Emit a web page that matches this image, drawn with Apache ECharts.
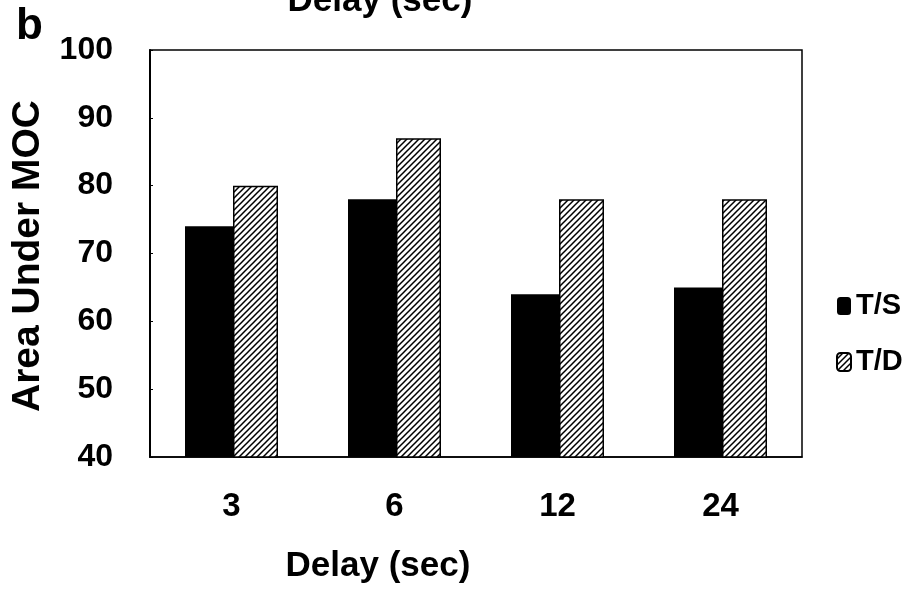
<!DOCTYPE html>
<html>
<head>
<meta charset="utf-8">
<script src="https://cdn.jsdelivr.net/npm/echarts@6/dist/echarts.min.js"></script>
<style>html,body{margin:0;padding:0;background:#fff}#c{width:914px;height:589px}</style>
</head>
<body>
<div id="c"></div>
<script>
const categories = ['3', '6', '12', '24'];
const seriesNames = ['T/S', 'T/D'];
const tsValues = [74, 78, 64, 65];
const tdValues = [80, 87, 78, 78];
const yTicks = { min: 40, max: 100, interval: 10 };

function hatch() {
  const c = document.createElement('canvas');
  c.width = 6; c.height = 6;
  const g = c.getContext('2d');
  g.fillStyle = '#fff'; g.fillRect(0, 0, 6, 6);
  g.strokeStyle = '#000'; g.lineWidth = 1.5;
  g.beginPath();
  g.moveTo(-1, 7); g.lineTo(7, -1);
  g.moveTo(-4, 4); g.lineTo(4, -4);
  g.moveTo(2, 10); g.lineTo(10, 2);
  g.stroke();
  return c;
}
const pattern = { image: hatch(), repeat: 'repeat' };
const font = '"Liberation Sans", Arial, sans-serif';

const chart = echarts.init(document.getElementById('c'));
chart.setOption({
  animation: false,
  backgroundColor: '#fff',
  grid: { left: 150, right: 112, top: 50, bottom: 132, show: true, borderColor: '#000', borderWidth: 1.5 },
  legend: {
    orient: 'vertical', left: 831, top: 285, itemGap: 24,
    itemWidth: 14, itemHeight: 18, data: seriesNames,
    textStyle: { fontFamily: font, fontWeight: 'bold', fontSize: 29, color: '#000', lineHeight: 32 }
  },
  xAxis: {
    type: 'category', data: categories,
    axisLine: { lineStyle: { color: '#000', width: 1.5 } },
    axisTick: { show: false },
    axisLabel: { margin: 33, fontFamily: font, fontWeight: 'bold', fontSize: 33, color: '#000' }
  },
  yAxis: {
    type: 'value', min: yTicks.min, max: yTicks.max, interval: yTicks.interval,
    axisLine: { show: true, lineStyle: { color: '#000', width: 2 } },
    axisTick: { show: true, inside: true, length: 3, lineStyle: { color: '#000' } },
    splitLine: { show: false },
    axisLabel: { margin: 37, fontFamily: font, fontWeight: 'bold', fontSize: 32, color: '#000' }
  },
  graphic: [
    { type: 'text', left: 16, top: 5, style: { text: 'b', font: 'bold 44px ' + font, fill: '#000' } },
    { type: 'text', x: 380, y: 1, style: { text: 'Delay (sec)', font: 'bold 35px ' + font, fill: '#000', align: 'center', verticalAlign: 'middle' } },
    { type: 'text', x: 378, y: 566, style: { text: 'Delay (sec)', font: 'bold 35px ' + font, fill: '#000', align: 'center', verticalAlign: 'middle' } },
    { type: 'text', x: 28, y: 256, rotation: Math.PI / 2, style: { text: 'Area Under MOC', font: 'bold 39px ' + font, fill: '#000', align: 'center', verticalAlign: 'middle' } }
  ],
  series: [
    { name: seriesNames[0], type: 'bar', data: tsValues, barWidth: 48, barGap: '0%',
      itemStyle: { color: '#000' } },
    { name: seriesNames[1], type: 'bar', data: tdValues, barWidth: 45, barGap: '0%',
      itemStyle: { color: pattern, borderColor: '#000', borderWidth: 1.5 } }
  ]
});
</script>
</body>
</html>
